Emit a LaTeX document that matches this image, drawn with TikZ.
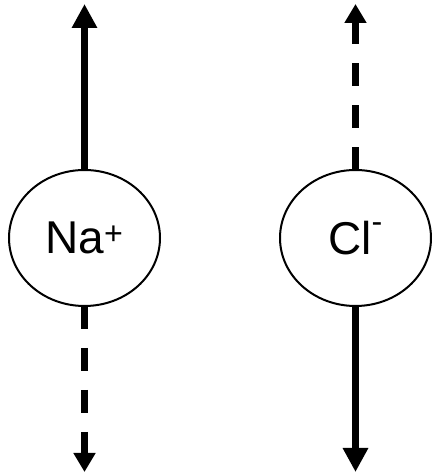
\documentclass[tikz,border=0pt]{standalone}
\usepackage{fontspec}
\setmainfont{Liberation Sans}
\usetikzlibrary{positioning, arrows.meta, shapes.geometric}

\begin{document}
\begin{tikzpicture}[
    ion/.style={
        draw, line width=2pt, ellipse, inner sep=0pt, outer sep=0pt,
        minimum width=151pt, minimum height=136pt,
        font=\fontsize{46}{50}\selectfont,
    },
    flux/.style={line width=7pt, -{Triangle[width=24pt, length=24pt]}},
    weakflux/.style={line width=7pt, dash pattern=on 23pt off 19pt,
        -{Triangle[width=21pt, length=19pt]}},
]
\useasboundingbox (0,0) rectangle (431pt,476pt);

\def\colA{84.5}
\def\colB{355.5}
\def\midY{238}

\node[ion] (na) at (\colA pt,\midY pt) {Na\textsuperscript{+}};
\node[ion] (cl) at (\colB pt,\midY pt) {Cl\textsuperscript{\raisebox{13pt}{-}}};

\coordinate (natop) at (\colA pt,472pt);
\coordinate (nabot) at (\colA pt,4pt);
\coordinate (cltop) at (\colB pt,472pt);
\coordinate (clbot) at (\colB pt,4pt);

% fluxes
\draw[flux] (na.north) -- (natop);
\draw[weakflux] (na.south) -- (nabot);
\draw[weakflux] (cl.north) -- (cltop);
\draw[flux] (cl.south) -- (clbot);

\end{tikzpicture}
\end{document}
